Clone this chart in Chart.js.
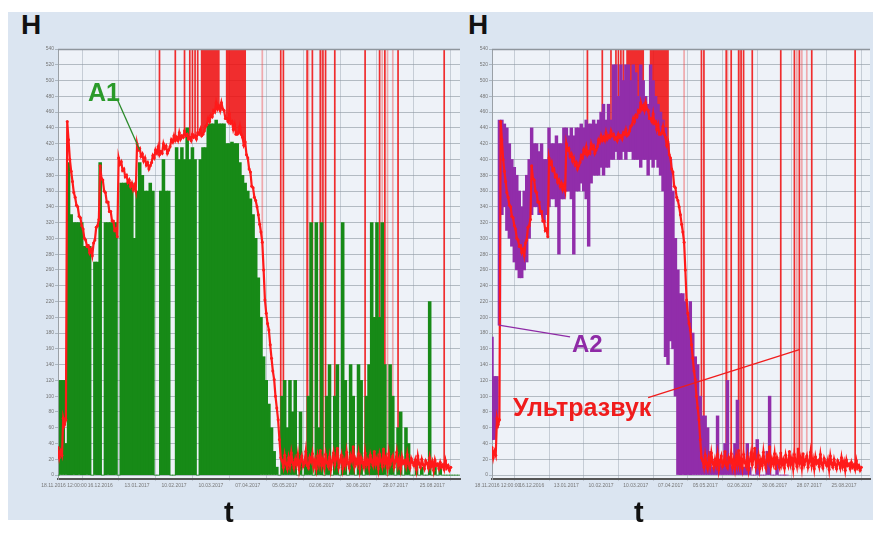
<!DOCTYPE html>
<html><head><meta charset="utf-8">
<script src="https://cdn.jsdelivr.net/npm/chart.js@4.4.1/dist/chart.umd.min.js"></script>
<style>
html,body{margin:0;padding:0;background:#fff;width:881px;height:533px;overflow:hidden;font-family:"Liberation Sans",Arial,sans-serif;}
#panel{position:absolute;left:8px;top:12px;width:865px;height:508px;background:#dbe5f1;}
canvas{position:absolute;}
.lbl{position:absolute;font-weight:bold;line-height:1;white-space:nowrap;}
</style></head><body>
<div id="panel"></div>
<canvas id="c1" width="445" height="463" style="left:20px;top:40px;width:445px;height:463px"></canvas>
<canvas id="c2" width="420" height="463" style="left:455px;top:40px;width:420px;height:463px"></canvas>
<div class="lbl" style="left:21px;top:11px;font-size:28px;color:#111">H</div>
<div class="lbl" style="left:468px;top:11px;font-size:28px;color:#111">H</div>
<div class="lbl" style="left:224px;top:498px;font-size:29px;color:#111">t</div>
<div class="lbl" style="left:634px;top:498px;font-size:29px;color:#111">t</div>
<div class="lbl" style="left:88px;top:80px;font-size:25px;color:#2a9a2a">A1</div>
<div class="lbl" style="left:572px;top:332px;font-size:24px;color:#8e2aa6">A2</div>
<div class="lbl" style="left:513px;top:395px;font-size:25px;color:#f01c1c">Ультразвук</div>
<script>
// ---- data ----
const startDate = '14.11.2016';
const binDays = 2;      // A1 / A2 bins
const usStepDays = 1;   // ultrasound samples
const dateLabels = ['18.11.2016 12:00:00','16.12.2016','13.01.2017','10.02.2017','10.03.2017','07.04.2017','05.05.2017','02.06.2017','30.06.2017','28.07.2017','25.08.2017'];
const hTicks = [0,20,40,60,80,100,120,140,160,180,200,220,240,260,280,300,320,340,360,380,400,420,440,460,480,500,520,540];

// A1 (green), one value per 2-day bin
const greenA1 = [
0,120,120,40,396,330,320,320,320,320,
290,290,290,0,270,270,396,0,320,320,
320,320,320,0,370,370,370,370,370,300,
360,396,380,360,360,370,360,0,0,360,
400,360,360,0,0,415,400,415,400,440,
400,415,400,0,400,415,415,445,445,445,
450,445,445,445,420,420,422,420,420,396,
380,370,360,350,330,300,250,200,150,120,
90,60,30,10,0,100,120,60,120,80,
120,0,80,0,20,100,320,0,320,60,
320,0,100,140,0,100,140,0,320,120,
0,140,100,0,140,120,0,100,140,320,
200,320,200,320,140,0,140,100,0,60,
80,0,60,40,0,0,20,0,10,0,
0,220,0,10,0,10,0,0,0,0,
0,0,0];

// Ultrasound (red), one value per day
const usValues = [
35,22,30,25,72,64,70,448,425,400,
385,372,358,352,342,340,328,326,316,312,
300,298,290,291,282,286,278,294,298,314,
316,324,392,376,374,360,358,346,346,334,
334,322,322,310,312,302,402,394,397,386,
388,378,380,371,374,366,370,362,367,360,
420,412,414,404,407,398,402,393,396,388,
392,396,405,402,412,408,416,406,410,408,
420,414,417,408,412,416,425,422,430,424,
428,424,434,426,430,428,436,430,432,426,
428,424,432,428,430,426,434,432,438,430,
432,436,442,444,452,448,456,454,462,460,
472,464,468,462,472,464,462,452,452,448,
458,446,448,438,444,432,432,434,442,432,
428,418,422,406,402,388,384,366,364,352,
348,340,330,318,308,295,260,222,205,192,
184,165,148,132,121,100,85,70,45,22,
18,10,25,14,8,22,12,28,16,9,
20,13,26,7,18,24,11,15,30,12,
9,22,17,27,10,19,8,24,14,31,
12,20,9,26,16,11,23,7,18,28,
13,21,34,10,17,25,8,19,12,29,
15,9,24,18,36,11,20,14,27,8,
22,16,10,28,13,19,9,25,17,12,
30,14,21,8,26,18,11,33,15,22,
9,27,13,19,24,10,17,29,12,20,
8,23,15,18,11,26,14,9,21,16,
12,19,7,24,14,10,20,13,8,18,
15,9,22,11,17,6,19,12,14,8,
16,10,13,7,18,9,12,6,10];

// Ultrasound out-of-range spikes (day numbers)
const usSpikeDays = [77,89,96,100,102,104,106,109,110,111,112,113,114,115,116,117,118,119,120,121,122,
128,129,130,131,132,133,134,135,136,137,138,139,140,141,142,169,171,189,193,199,201,203,210,233,244,248,258,293];
const usSpikeFaint = [155,190,200,246,250,254];

// A2 (purple) low / high per 2-day bin
const purpleLo = [
45,45,60,190,330,340,310,300,290,270,
260,250,250,260,270,300,330,340,340,330,
330,320,330,340,350,350,340,280,350,350,
360,360,350,280,360,360,370,360,350,290,
370,380,380,380,390,380,390,390,400,400,
410,400,400,410,400,410,410,400,400,400,
390,400,400,380,400,390,400,390,380,360,
150,140,170,160,100,0,0,0,0,0];
const purpleHi = [
175,125,125,450,450,445,440,420,400,390,
380,360,340,360,380,400,440,420,420,410,
420,400,400,440,420,420,430,420,420,440,
440,430,440,430,440,440,445,440,450,445,
445,450,445,450,460,470,450,470,450,520,
520,480,520,500,520,520,500,520,510,480,
520,500,480,470,520,500,480,470,460,450,
440,420,400,360,300,260,230,230,220,200,
220,180,150,140,100,75,75,60,30,10,
20,75,20,10,40,120,20,10,40,95,
20,10,10,40,10,0,0,45,0,0,
0,30,100,0,0,20,0,0,0,0];

// ---- helpers ----
function dayOf(label){
  const parts = label.split(' ');
  const [d,m,y] = parts[0].split('.').map(Number);
  const [sd,sm,sy] = startDate.split('.').map(Number);
  return (Date.UTC(y,m-1,d)-Date.UTC(sy,sm-1,sd))/86400000 + (parts[1] ? 0.5 : 0);
}
const tickDays = dateLabels.map(dayOf);
const usData = usValues.map((v,k)=>({x:k*usStepDays,y:v}));
function spikeData(days){
  const out=[];
  days.forEach(d=>{
    const b = usValues[Math.round(d/usStepDays)];
    out.push({x:d,y:b==null?0:b},{x:d,y:620},{x:d,y:null});
  });
  return out;
}
const greenData = greenA1.map((v,k)=>({x:k*binDays,y:v}));
const purpleData = purpleHi.map((v,k)=>({x:k*binDays,y:[purpleLo[k]!==undefined?purpleLo[k]:0, v]}));

const bgPlugin = {
  id:'bg',
  beforeDraw(chart){
    const {ctx,chartArea:a}=chart;
    ctx.save(); ctx.fillStyle='#eef2f8'; ctx.fillRect(a.left,a.top,a.right-a.left,a.bottom-a.top); ctx.restore();
  },
  afterDraw(chart){
    const {ctx,chartArea:a}=chart;
    ctx.save(); ctx.strokeStyle='#8e959d'; ctx.lineWidth=1.5;
    ctx.beginPath(); ctx.moveTo(a.left,a.top+0.5); ctx.lineTo(a.right,a.top+0.5); ctx.stroke();
    const ann = chart.options.plugins.leader || [];
    ann.forEach(l=>{
      const xs=chart.scales.x, ys=chart.scales.y;
      ctx.strokeStyle=l.color; ctx.lineWidth=1.3;
      ctx.beginPath();
      ctx.moveTo(xs.getPixelForValue(l.from[0]), ys.getPixelForValue(l.from[1]));
      ctx.lineTo(xs.getPixelForValue(l.to[0]), ys.getPixelForValue(l.to[1]));
      ctx.stroke();
    });
    ctx.restore();
  }
};

function makeChart(id, mainDs, yWidth, leader, barW){
  return new Chart(document.getElementById(id), {
    type:'bar',
    data:{datasets:[
      {type:'line', data:spikeData(usSpikeDays), borderColor:'rgba(240,10,10,0.85)', borderWidth:1.7, pointRadius:0, spanGaps:false, order:5},
      {type:'line', data:spikeData(usSpikeFaint), borderColor:'rgba(240,60,60,0.4)', borderWidth:1.7, pointRadius:0, spanGaps:false, order:4},
      Object.assign({type:'bar', borderWidth:0, barThickness:barW, grouped:false, order:2}, mainDs),
      {type:'line', data:usData, borderColor:'#ff1a1a', borderWidth:2.2, pointRadius:1.5, pointBackgroundColor:'#ff1a1a', pointBorderWidth:0, spanGaps:false, order:1}
    ]},
    plugins:[bgPlugin],
    options:{
      responsive:false, animation:false, devicePixelRatio:1,
      layout:{padding:{top:9,right:5,bottom:4,left:0}},
      plugins:{legend:{display:false}, tooltip:{enabled:false}, leader:leader},
      scales:{
        x:{type:'linear', min:0, max:305, offset:false,
          afterBuildTicks(s){ s.ticks = tickDays.map(v=>({value:v})); },
          afterFit(s){ s.height=20; },
          ticks:{autoSkip:false, maxRotation:0, minRotation:0, font:{size:5}, color:'#777', padding:2,
            callback:(v,i)=>dateLabels[i]},
          grid:{color:'rgba(165,175,185,0.55)', lineWidth:1, tickLength:2},
          border:{color:'#555', width:2}},
        y:{type:'linear', min:-5, max:540,
          afterBuildTicks(s){ s.ticks = hTicks.map(v=>({value:v})); },
          afterFit(s){ s.width=yWidth; },
          ticks:{font:{size:5}, color:'#777', padding:1},
          grid:{color:'rgba(140,150,160,0.6)', lineWidth:1, tickLength:3},
          border:{color:'#9aa0a6', width:1}}
      }
    }
  });
}

makeChart('c1', {data:greenData, backgroundColor:'#178a17'}, 38,
  [{from:[45,476], to:[62,412], color:'#2a8a2a'}], 2.9);
makeChart('c2', {data:purpleData, backgroundColor:'rgb(145,45,170)'}, 37,
  [{from:[5.5,190], to:[63,175], color:'#8e2aa6'}, {from:[126,98], to:[248,159], color:'#f01c1c'}], 2.8);
</script>
</body></html>
